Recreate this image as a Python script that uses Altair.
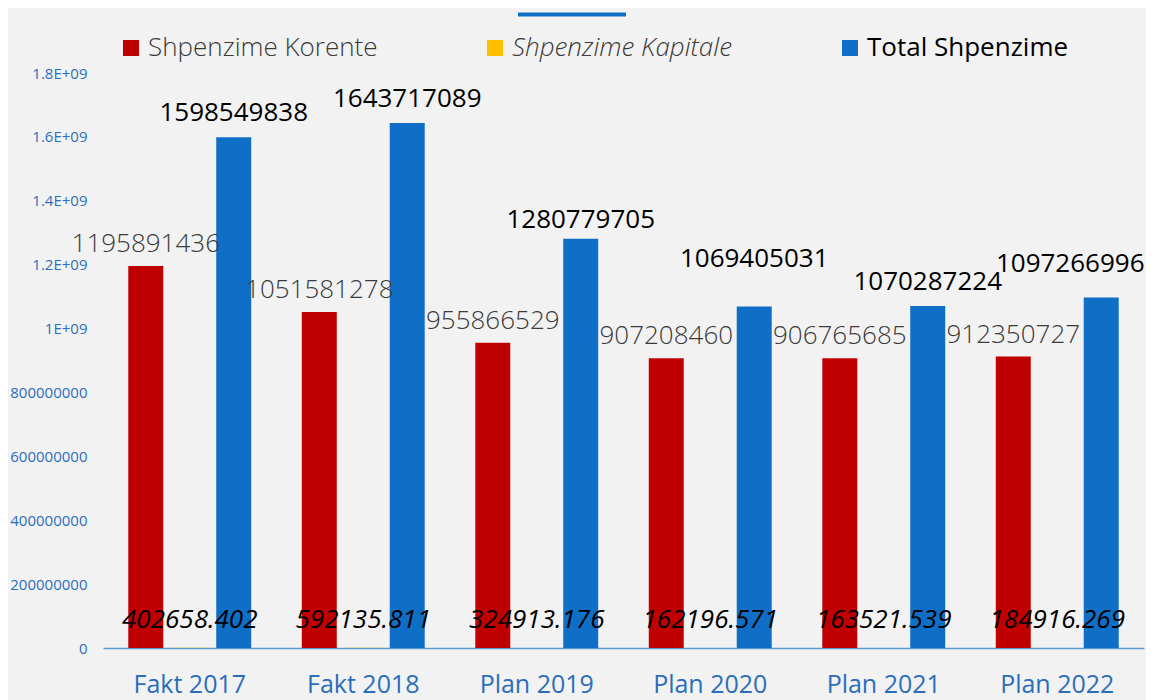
import altair as alt
import pandas as pd

categories = ["Fakt 2017", "Fakt 2018", "Plan 2019", "Plan 2020", "Plan 2021", "Plan 2022"]
series = ["Shpenzime Korente", "Shpenzime Kapitale", "Total Shpenzime"]
korente = [1195891436, 1051581278, 955866529, 907208460, 906765685, 912350727]
kapitale = [402658.402, 592135.811, 324913.176, 162196.571, 163521.539, 184916.269]
total = [1598549838, 1643717089, 1280779705, 1069405031, 1070287224, 1097266996]
y_ticks = [0, 200000000, 400000000, 600000000, 800000000, 1000000000,
           1200000000, 1400000000, 1600000000, 1800000000]
colors = ["#C00000", "#FFC000", "#0F6FC6"]

rows = []
for s, vals in zip(series, [korente, kapitale, total]):
    for c, v in zip(categories, vals):
        rows.append({"cat": c, "series": s, "value": v, "label": str(v)})
df = pd.DataFrame(rows)

FONT = "Open Sans"
AXIS_BLUE = "#2A6EBB"

x_enc = alt.X(
    "cat:N", sort=categories,
    scale=alt.Scale(paddingInner=0, paddingOuter=0),
    axis=alt.Axis(title=None, labelAngle=0, ticks=False, domainColor="#5B9BD5",
                  domainWidth=1.5, labelColor=AXIS_BLUE, labelFontSize=25,
                  labelPadding=24, labelFont=FONT),
)
xo_enc = alt.XOffset("series:N", sort=series,
                     scale=alt.Scale(domain=series, paddingInner=0.2045, paddingOuter=0.575))
y_enc = alt.Y(
    "value:Q",
    scale=alt.Scale(domain=[0, 1800000000], nice=False),
    axis=alt.Axis(title=None, values=y_ticks, grid=False, domain=False, ticks=False,
                  labelColor=AXIS_BLUE, labelFontSize=15, labelPadding=16, labelFont=FONT,
                  labelExpr="datum.value >= 1000000000 ? format(datum.value / 1000000000, '.2~f') + 'E+09' : format(datum.value, 'd')"),
)

base = alt.Chart(df)

bars = base.mark_bar().encode(
    x=x_enc, xOffset=xo_enc, y=y_enc,
    color=alt.Color(
        "series:N", sort=series,
        scale=alt.Scale(domain=series, range=colors),
        legend=alt.Legend(
            title=None, orient="none", direction="horizontal",
            legendX=15, legendY=-38, padding=0,
            symbolType="square", symbolSize=256, symbolStrokeWidth=0,
            labelFont=FONT, labelFontSize=26, labelOffset=4, labelLimit=0,
            columnPadding=104,
            labelColor={"expr": "datum.label == 'Total Shpenzime' ? '#000000' : '#3A3A3A'"},
            labelFontStyle={"expr": "datum.label == 'Shpenzime Kapitale' ? 'italic' : 'normal'"},
            labelFontWeight={"expr": "datum.label == 'Total Shpenzime' ? 400 : 300"},
        ),
    ),
)

kor_text = base.transform_filter(alt.datum.series == series[0]).mark_text(
    dy=-22, fontSize=26, font=FONT, fontWeight=300, color="#3A3A3A"
).encode(x=x_enc, xOffset=xo_enc, y=y_enc, text="label:N")

kap_text = base.transform_filter(alt.datum.series == series[1]).mark_text(
    dy=-28, fontSize=26, font=FONT, fontStyle="italic", color="#000000"
).encode(x=x_enc, xOffset=xo_enc, y=y_enc, text="label:N")

# label nudges for the totals, as in the reference (kept clear of neighbours / edge)
tot_text = base.transform_filter(alt.datum.series == series[2]).mark_text(
    fontSize=26, font=FONT, color="#000000",
    dx={"expr": "datum.cat == 'Plan 2022' ? -31 : 0"},
    dy={"expr": "datum.cat == 'Plan 2020' ? -47 : datum.cat == 'Plan 2022' ? -33 : datum.cat == 'Plan 2019' ? -19 : -24"},
).encode(x=x_enc, xOffset=xo_enc, y=y_enc, text="label:N")

top_line = alt.Chart(pd.DataFrame({"k": [0]})).mark_rule(
    color="#0F6FC6", strokeWidth=4
).encode(x=alt.value(415), x2=alt.value(523), y=alt.value(-58.5))

chart = alt.layer(bars, kor_text, kap_text, tot_text, top_line).properties(
    width=1041, height=575,
    autosize=alt.AutoSizeParams(type="none"),
    padding={"left": 95, "top": 65, "right": 2, "bottom": 52},
    background="#F2F2F2",
).configure_view(stroke=None)

chart.save("out.html", embed_options={"renderer": "svg", "actions": False})
